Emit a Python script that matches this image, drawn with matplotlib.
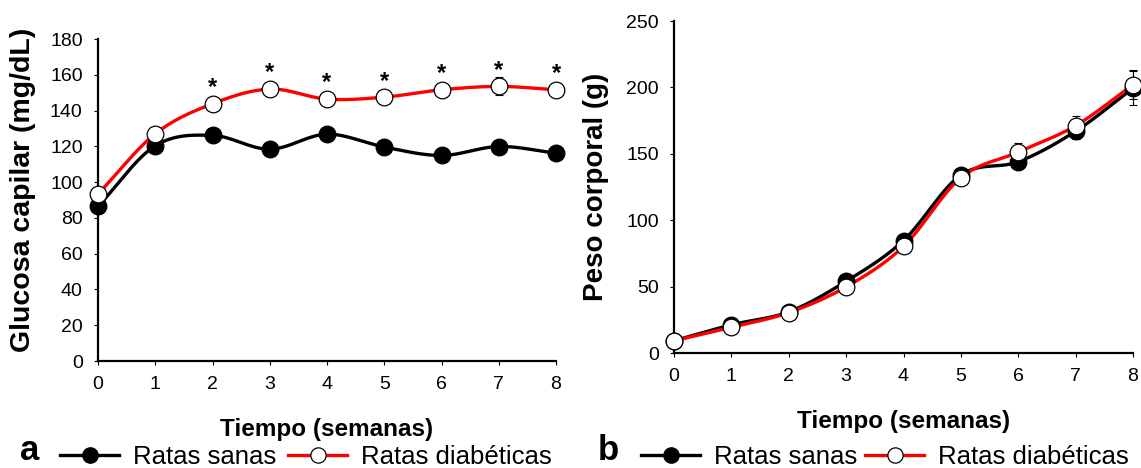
import numpy as np
import matplotlib
matplotlib.use('Agg')
import matplotlib.pyplot as plt
from matplotlib.lines import Line2D

plt.rcParams['font.family'] = ['Liberation Sans', 'DejaVu Sans']

# Data
weeks = [0, 1, 2, 3, 4, 5, 6, 7, 8]

glucose_sanas = [86.4, 120.3, 126.1, 118.4, 126.8, 119.6, 114.9, 119.9, 116.2]
glucose_sanas_err = [1.5, 1.5, 1.5, 1.5, 1.5, 1.5, 1.5, 1.5, 1.5]
glucose_diab = [93.3, 127.0, 143.8, 152.0, 146.4, 147.5, 151.6, 153.5, 151.6]
glucose_diab_err = [1.5, 1.5, 4.0, 2.0, 3.0, 4.0, 4.0, 5.0, 3.0]
star_weeks = [2, 3, 4, 5, 6, 7, 8]

weight_sanas = [9.2, 21.2, 31.0, 54.0, 84.7, 134.0, 144.0, 167.0, 199.4]
weight_sanas_err = [1.0, 1.5, 1.5, 2.0, 2.0, 2.5, 5.0, 6.0, 13.0]
weight_diab = [9.2, 19.4, 30.4, 49.8, 80.3, 132.0, 151.3, 171.2, 202.0]
weight_diab_err = [1.0, 1.5, 1.5, 2.0, 2.0, 2.5, 7.0, 7.0, 11.0]


def smooth(x, y, n=30):
    """Catmull-Rom style smoothing like Excel smoothed lines"""
    x = np.asarray(x, float)
    y = np.asarray(y, float)
    px = np.concatenate([[2 * x[0] - x[1]], x, [2 * x[-1] - x[-2]]])
    py = np.concatenate([[2 * y[0] - y[1]], y, [2 * y[-1] - y[-2]]])
    xs, ys = [], []
    t = np.linspace(0, 1, n)
    for i in range(1, len(px) - 2):
        for p, out in ((px, xs), (py, ys)):
            p0, p1, p2, p3 = p[i - 1], p[i], p[i + 1], p[i + 2]
            seg = 0.5 * ((2 * p1) + (-p0 + p2) * t
                         + (2 * p0 - 5 * p1 + 4 * p2 - p3) * t ** 2
                         + (-p0 + 3 * p1 - 3 * p2 + p3) * t ** 3)
            out.append(seg if i == 1 else seg[1:])
    return np.concatenate(xs), np.concatenate(ys)


def draw_panel(ax, y1, e1, y2, e2):
    for y, e, color, face in ((y1, e1, 'black', 'black'), (y2, e2, 'red', 'white')):
        sx, sy = smooth(weeks, y)
        ax.plot(sx, sy, color=color, lw=2.4, clip_on=False, zorder=2)
        ax.errorbar(weeks, y, yerr=e, fmt='none', ecolor='black', elinewidth=0.8,
                    capsize=3, capthick=0.8, clip_on=False, zorder=3)
        ax.plot(weeks, y, 'o', ms=12, mfc=face, mec='black', mew=0.9,
                clip_on=False, zorder=4)
    ax.set_xlim(0, 8)
    ax.set_xticks(weeks)
    for s in ('top', 'right'):
        ax.spines[s].set_visible(False)
    for s in ('left', 'bottom'):
        ax.spines[s].set_linewidth(1.6)
    ax.tick_params(direction='out', length=3, width=0.8, labelsize=14, pad=8)
    ax.set_xlabel('Tiempo (semanas)', fontsize=17.5, fontweight='bold', labelpad=18)


W, H = 1141, 468
fig = plt.figure(figsize=(W / 100, H / 100), dpi=100)

ax1 = fig.add_axes([98 / W, 1 - 361 / H, (556 - 98) / W, (361 - 39) / H])
draw_panel(ax1, glucose_sanas, glucose_sanas_err, glucose_diab, glucose_diab_err)
ax1.set_ylim(0, 180)
ax1.set_yticks(range(0, 181, 20))
ax1.set_ylabel('Glucosa capilar (mg/dL)', fontsize=20.5, fontweight='bold')
ax1.yaxis.set_label_coords(-0.135, 0.53)
for w in star_weeks:
    ax1.text(w, glucose_diab[w] + 9, '*', ha='center', va='center',
             fontsize=17, fontweight='bold')

ax2 = fig.add_axes([674 / W, 1 - 353 / H, (1133 - 674) / W, (353 - 21) / H])
draw_panel(ax2, weight_sanas, weight_sanas_err, weight_diab, weight_diab_err)
ax2.set_ylim(0, 250)
ax2.set_yticks(range(0, 251, 50))
ax2.set_ylabel('Peso corporal (g)', fontsize=20, fontweight='bold', labelpad=12)

# Legends and panel letters
handles = [
    Line2D([], [], color='black', lw=2.4, marker='o', ms=11, mfc='black', mec='black'),
    Line2D([], [], color='red', lw=2.4, marker='o', ms=11, mfc='white', mec='black', mew=0.9),
]
names = ['Ratas sanas', 'Ratas diabéticas']
for letter, lx, hx, colsp in (('a', 20, 60, 0.45), ('b', 598, 641, 0.3)):
    fig.text(lx / W, 1 - 450 / H, letter, fontsize=25, fontweight='bold', va='center')
    fig.legend(handles, names, loc='center left', bbox_to_anchor=(hx / W, 1 - 457 / H),
               ncol=2, frameon=False, fontsize=18.5, handlelength=2.3, handletextpad=0.55,
               columnspacing=colsp, borderpad=0, borderaxespad=0)

fig.savefig('out.png', dpi=100)
